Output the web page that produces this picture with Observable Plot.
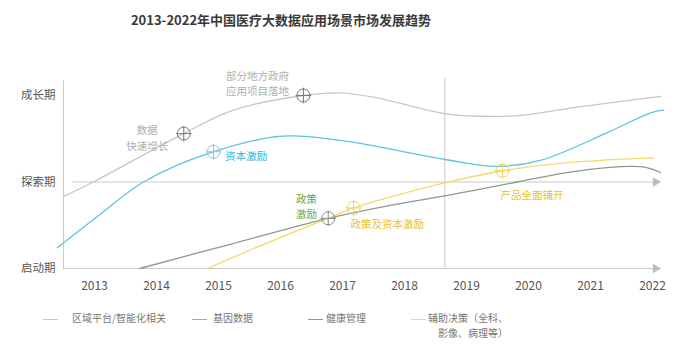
<!DOCTYPE html>
<html><head><meta charset="utf-8">
<script src="https://cdn.jsdelivr.net/npm/d3@7"></script>
<script src="https://cdn.jsdelivr.net/npm/@observablehq/plot@0.6"></script>
<style>
body{margin:0;background:#fff;font-family:"Noto Sans CJK SC","Noto Sans",sans-serif;}
#wrap{position:relative;width:679px;height:351px;overflow:hidden;background:#fff;}
#title{position:absolute;left:0;top:0;width:562px;height:40px;line-height:40px;text-align:center;font-size:13px;font-weight:bold;color:#3a3a3a;}
#chart{position:absolute;left:0;top:40px;}
.leg{position:absolute;font-size:10px;color:#777;line-height:14.5px;white-space:nowrap;}
.sw{position:absolute;height:0;width:15px;border-top:1.5px solid;}
</style></head><body>
<div id="wrap">
  <div id="title">2013-2022年中国医疗大数据应用场景市场发展趋势</div>
  <div id="chart"></div>
  <div id="legend"></div>
</div>
<script>
// ---- data ----
const stages = ["启动期", "探索期", "成长期"];
const stageLevels = [0, 1, 2];
const tickYears = [2013, 2014, 2015, 2016, 2017, 2018, 2019, 2020, 2021, 2022];

const seriesNames = ["区域平台/智能化相关", "基因数据", "健康管理", "辅助决策（全科、\n影像、病理等）"];

const regionYears  = [2012.5, 2012.98, 2014.44, 2015.24, 2016.37, 2016.97, 2017.5, 2018.65, 2019.23, 2019.87, 2020.73, 2022.13];
const regionLevels = [0.83, 1.0, 1.56, 1.83, 2.0, 2.03, 1.98, 1.79, 1.76, 1.77, 1.86, 1.99];

const geneYears  = [2012.4, 2013.1, 2013.79, 2014.92, 2016.03, 2016.97, 2018.65, 2019.47, 2020.19, 2021.27, 2021.97, 2022.18];
const geneLevels = [0.24, 0.63, 1.0, 1.35, 1.53, 1.48, 1.26, 1.18, 1.25, 1.57, 1.80, 1.83];

const healthYears  = [2013.73, 2015.19, 2016.77, 2017.77, 2018.65, 2019.82, 2020.73, 2021.6, 2021.89, 2022.13];
const healthLevels = [0, 0.28, 0.58, 0.73, 0.84, 1.0, 1.12, 1.18, 1.17, 1.11];

const aidYears  = [2014.82, 2015.8, 2016.77, 2017.18, 2017.94, 2018.65, 2019.58, 2020.73, 2022.02];
const aidLevels = [0, 0.30, 0.58, 0.70, 0.86, 0.99, 1.13, 1.23, 1.28];

// milestone markers
const markerYears  = [2014.44, 2016.37, 2014.92, 2016.77, 2017.18, 2019.58];
const markerLevels = [1.56, 2.0, 1.35, 0.58, 0.70, 1.13];
const markerSeries = [0, 0, 1, 2, 3, 3];

// annotations
const noteTexts   = ["数据\n快速增长", "部分地方政府\n应用项目落地", "资本激励", "政策\n激励", "政策及资本激励", "产品全面铺开"];
const noteYears   = [2013.85, 2015.63, 2015.11, 2016.42, 2017.13, 2019.55];
const noteLevels  = [1.52, 2.15, 1.31, 0.73, 0.52, 0.86];
const noteSeries  = [0, 0, 1, 2, 3, 3];
const noteAnchors = ["middle", "middle", "start", "middle", "start", "start"];

// axis geometry (in data units)
const axisStartYear = 2012.5;
const axisEndYear = 2022.05;
const midLineStartYear = 2012.65;
const dividerYear = 2018.65;
const axisTopLevel = 2.17;
const dividerTopLevel = 2.2;

// ---- styles ----
const lineColors   = ["#c6c6c6", "#5cc3df", "#8e9a88", "#f1db6a"];
const markerColors = ["#7a7a7a", "#7fd0e8", "#8a8a8a", "#f0d35a"];
const noteColors   = ["#b0b0b0", "#2fb3d8", "#6aa83e", "#e9c22c"];
const axisColor = "#cacaca";
const font = '"Noto Sans CJK SC","Noto Sans",sans-serif';

const seriesData = [
  [regionYears, regionLevels],
  [geneYears, geneLevels],
  [healthYears, healthLevels],
  [aidYears, aidLevels]
];
const lineRows = seriesData.flatMap(([xs, ys], s) => xs.map((x, i) => ({x, y: ys[i], s})));
const markers = markerYears.map((x, i) => ({x, y: markerLevels[i], s: markerSeries[i]}));
const notes = noteTexts.map((t, i) => ({t, x: noteYears[i], y: noteLevels[i], s: noteSeries[i], a: noteAnchors[i]}));

const crosshair = {
  draw(ctx, size) {
    const r = Math.sqrt(size / Math.PI);
    const e = r * 1.2;
    ctx.moveTo(r, 0);
    ctx.arc(0, 0, r, 0, 2 * Math.PI);
    ctx.moveTo(-e, 0); ctx.lineTo(e, 0);
    ctx.moveTo(0, -e); ctx.lineTo(0, e);
  }
};

const noteMark = anchor => Plot.text(notes.filter(d => d.a === anchor), {
  x: "x", y: "y", text: "t", fill: d => noteColors[d.s], fontSize: 10.5, lineHeight: 1.45, textAnchor: anchor
});

const plot = Plot.plot({
  width: 679, height: 270,
  marginLeft: 94, marginRight: 27, marginTop: 55, marginBottom: 42,
  x: {domain: [2013, 2022], axis: null},
  y: {domain: [0, 2], axis: null},
  style: {fontFamily: font, background: "transparent", overflow: "visible"},
  marks: [
    // axes
    Plot.ruleX([axisStartYear], {y1: 0, y2: axisTopLevel, stroke: axisColor, strokeWidth: 1}),
    Plot.ruleY([0], {x1: axisStartYear, x2: axisEndYear, stroke: axisColor, strokeWidth: 1.2}),
    Plot.ruleY([1], {x1: midLineStartYear, x2: axisEndYear, stroke: axisColor, strokeWidth: 1.2}),
    Plot.dot([0, 1], {x: () => axisEndYear, y: d => d, symbol: "triangle", rotate: 90, r: 3.6, fill: "#bdbdbd", stroke: "none"}),
    Plot.ruleX([dividerYear], {y1: 0, y2: dividerTopLevel, stroke: axisColor, strokeWidth: 1}),
    Plot.text(stageLevels, {x: () => axisStartYear, y: d => d, text: (d, i) => stages[i], textAnchor: "end", dx: -8, fontSize: 11.5, fill: "#555"}),
    Plot.text(tickYears, {x: d => d, y: () => 0, text: d => String(d), dy: 18, fontSize: 12, fill: "#555"}),
    // series
    Plot.line(lineRows, {x: "x", y: "y", z: "s", stroke: d => lineColors[d.s], strokeWidth: 1.3, curve: "catmull-rom"}),
    // markers
    Plot.dot(markers, {x: "x", y: "y", r: 6.5, symbol: crosshair, fill: "none", stroke: d => markerColors[d.s], strokeWidth: 1}),
    // notes
    noteMark("middle"),
    noteMark("start")
  ]
});
document.getElementById("chart").appendChild(plot);

// legend
const legendSwatchX = [43, 192, 308, 411];
const legendTextX = [72, 213, 326, 428];
const legendTop = 311;
const legend = document.getElementById("legend");
seriesNames.forEach((name, i) => {
  const sw = document.createElement("div");
  sw.className = "sw";
  sw.style.left = legendSwatchX[i] + "px";
  sw.style.top = (legendTop + 8) + "px";
  sw.style.borderTopColor = lineColors[i];
  legend.appendChild(sw);
  const lab = document.createElement("div");
  lab.className = "leg";
  lab.style.left = legendTextX[i] + "px";
  lab.style.top = legendTop + "px";
  lab.style.textAlign = "right";
  name.split("\n").forEach((ln, j) => {
    if (j > 0) lab.appendChild(document.createElement("br"));
    lab.appendChild(document.createTextNode(ln));
  });
  legend.appendChild(lab);
});
</script>
</body></html>
